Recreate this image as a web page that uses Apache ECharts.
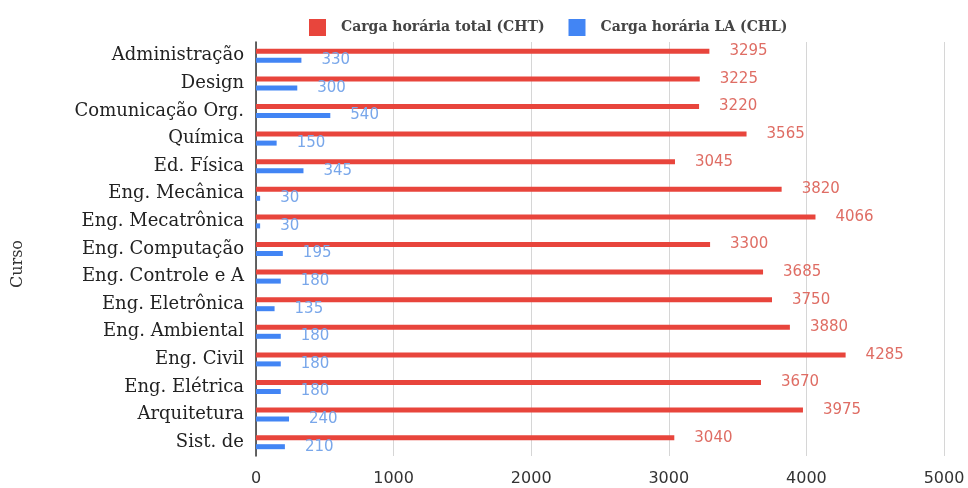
<!DOCTYPE html>
<html>
<head>
<meta charset="utf-8">
<script src="https://cdn.jsdelivr.net/npm/echarts@6/dist/echarts.min.js"></script>
<style>
  html, body { margin: 0; padding: 0; background: #fff; }
  #chart { width: 968px; height: 488px; }
</style>
</head>
<body>
<div id="chart"></div>
<script>
const cursos = [
  'Administração', 'Design', 'Comunicação Org.', 'Química', 'Ed. Física',
  'Eng. Mecânica', 'Eng. Mecatrônica', 'Eng. Computação', 'Eng. Controle e A',
  'Eng. Eletrônica', 'Eng. Ambiental', 'Eng. Civil', 'Eng. Elétrica',
  'Arquitetura', 'Sist. de'
];
const cargaTotal = [3295, 3225, 3220, 3565, 3045, 3820, 4066, 3300, 3685, 3750, 3880, 4285, 3670, 3975, 3040];
const cargaLA = [330, 300, 540, 150, 345, 30, 30, 195, 180, 135, 180, 180, 180, 240, 210];
const xTicks = [0, 1000, 2000, 3000, 4000, 5000];

const serif = '"DejaVu Serif", "Liberation Serif", serif';
const sans = '"DejaVu Sans", Verdana, sans-serif';

const myChart = echarts.init(document.getElementById('chart'));
const option = {
  animation: false,
  legend: {
    top: 14,
    left: 304,
    itemWidth: 17,
    itemHeight: 17,
    itemGap: 24,
    icon: 'rect',
    textStyle: {
      fontFamily: serif,
      fontWeight: 'bold',
      fontSize: 14,
      color: '#444',
      padding: [0, 0, 0, 10]
    },
    data: ['Carga horária total (CHT)', 'Carga horária LA (CHL)']
  },
  graphic: [
    {
      type: 'text',
      left: 10,
      top: 240,
      rotation: Math.PI / 2,
      style: {
        text: 'Curso',
        fontFamily: serif,
        fontSize: 16,
        fill: '#333'
      }
    }
  ],
  grid: {
    left: 256,
    right: 24,
    top: 42,
    bottom: 32
  },
  xAxis: {
    type: 'value',
    min: xTicks[0],
    max: xTicks[xTicks.length - 1],
    interval: 1000,
    axisLine: { show: false },
    axisTick: { show: false },
    splitLine: {
      lineStyle: { color: '#d6d6d6' } // vertical grid lines
    },
    axisLabel: {
      margin: 15,
      fontFamily: sans,
      fontSize: 16,
      color: '#333',
      formatter: v => String(v)
    }
  },
  yAxis: {
    type: 'category',
    data: cursos,
    inverse: true,
    axisTick: { show: false },
    axisLine: {
      lineStyle: { color: '#333', width: 1.5 }
    },
    axisLabel: {
      margin: 12,
      fontFamily: serif,
      fontSize: 18,
      color: '#222'
    }
  },
  series: [
    {
      name: 'Carga horária total (CHT)',
      type: 'bar',
      data: cargaTotal,
      barWidth: 5,
      barGap: '80%',
      itemStyle: { color: '#e8453c' },
      label: {
        show: true,
        position: 'right',
        distance: 20,
        fontFamily: sans,
        fontSize: 15,
        color: '#df6d64'
      }
    },
    {
      name: 'Carga horária LA (CHL)',
      type: 'bar',
      data: cargaLA,
      barWidth: 5,
      barGap: '80%',
      itemStyle: { color: '#4285f4' },
      label: {
        show: true,
        position: 'right',
        distance: 20,
        fontFamily: sans,
        fontSize: 15,
        color: '#79a7ea'
      }
    }
  ]
};
myChart.setOption(option);
</script>
</body>
</html>
